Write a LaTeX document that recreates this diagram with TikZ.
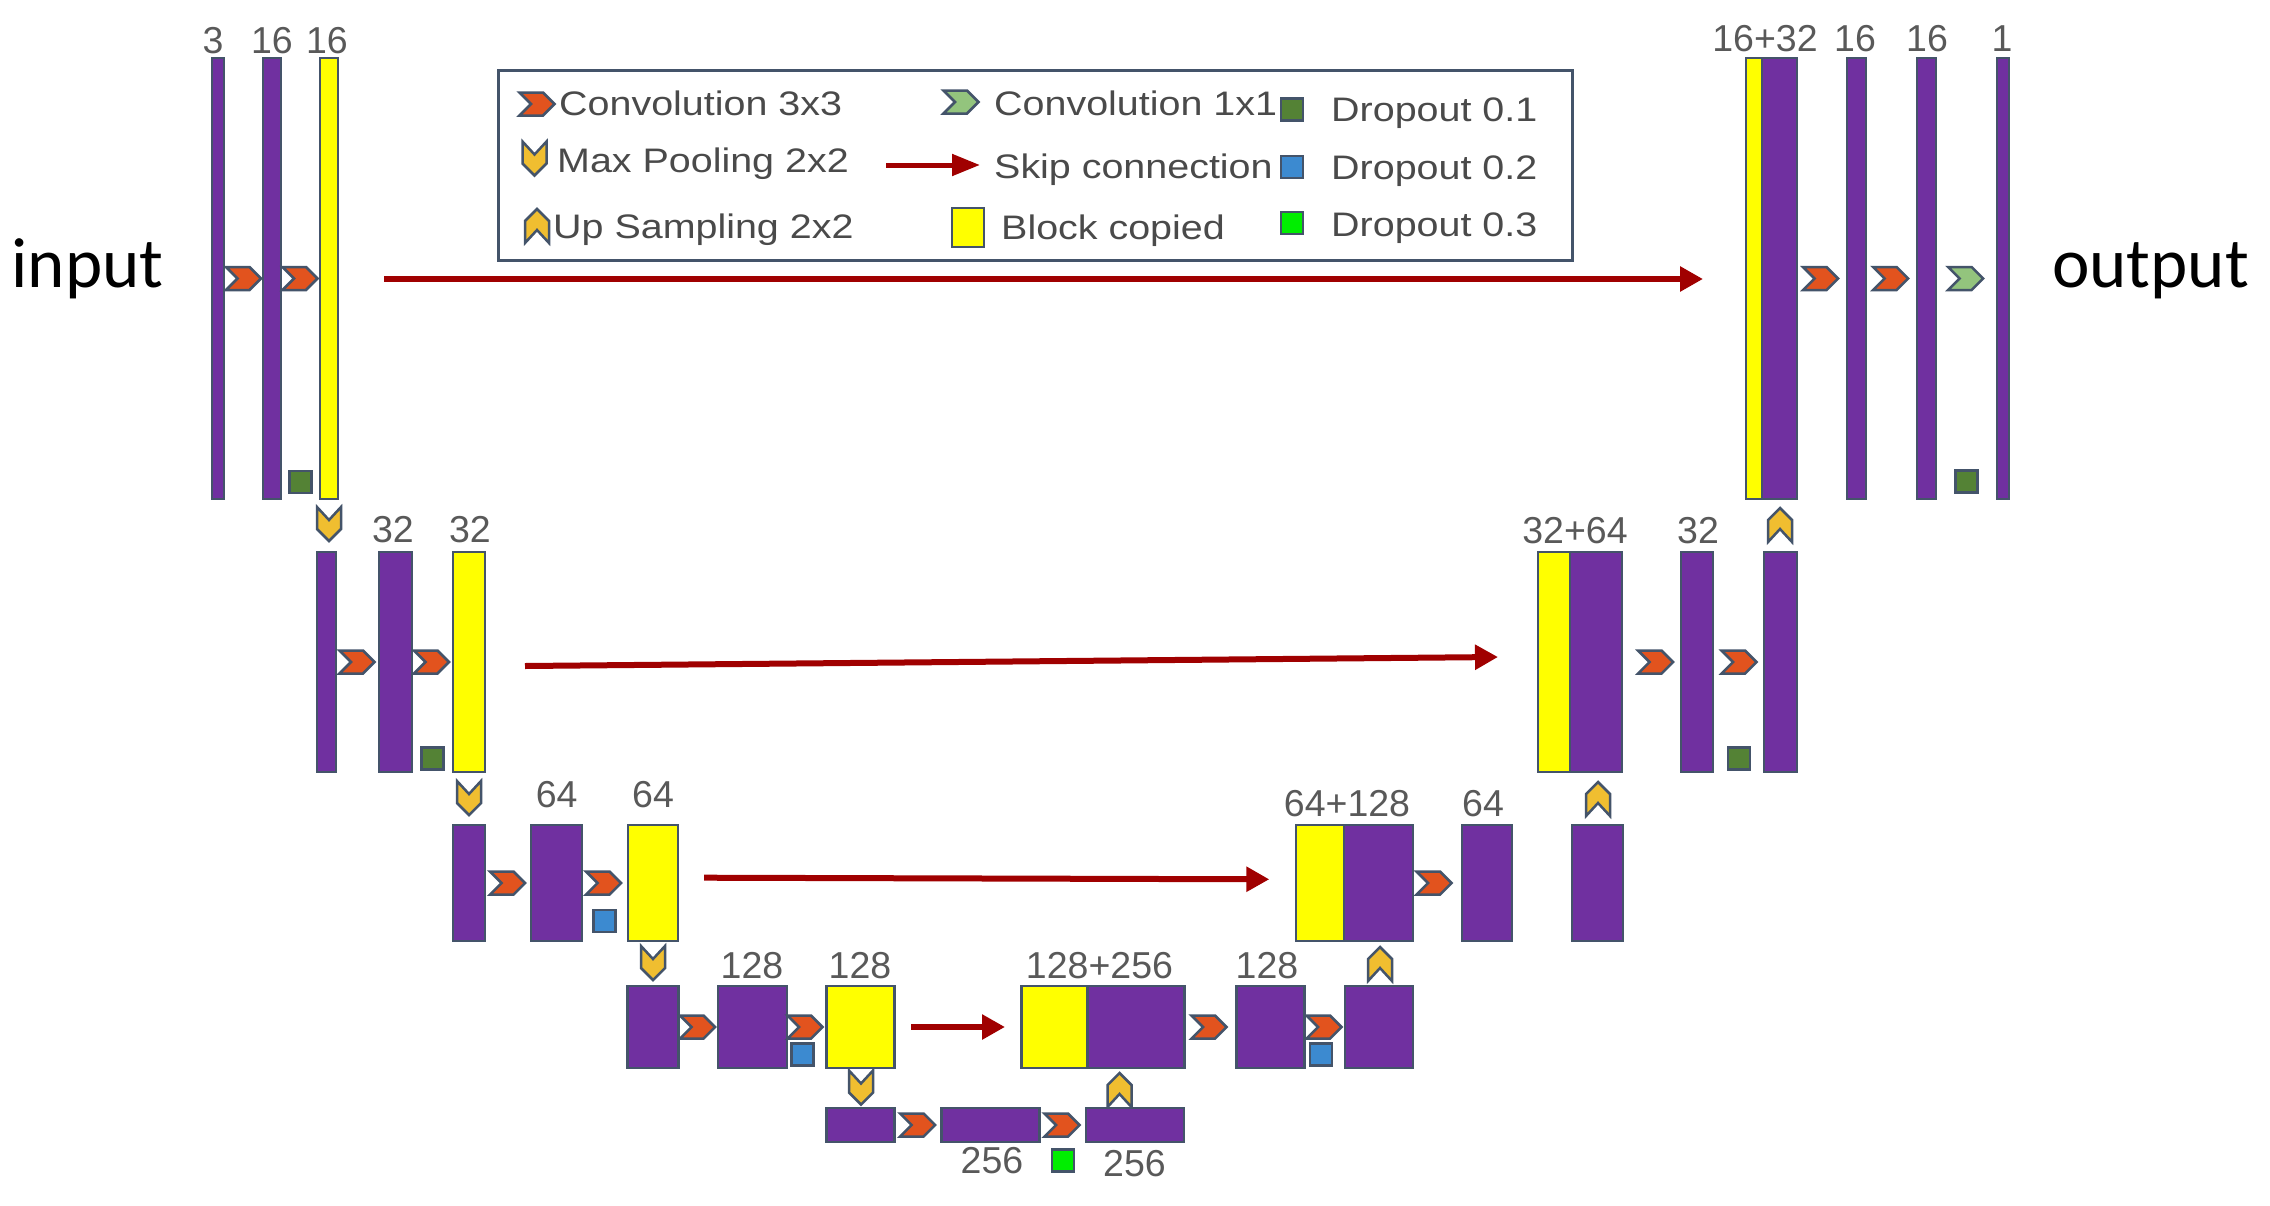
\documentclass[tikz,border=0pt]{standalone}
\usepackage{fontspec}
\setmainfont{Liberation Sans}
\newfontfamily\calib{Carlito}
\newfontfamily\legfont[FakeStretch=1.16]{Liberation Sans}
\usetikzlibrary{arrows.meta}
\definecolor{purp}{HTML}{7030A0}
\definecolor{edge}{HTML}{44546A}
\definecolor{yel}{HTML}{FFFF00}
\definecolor{convc}{HTML}{E2531E}
\definecolor{poolc}{HTML}{F0BE30}
\definecolor{onec}{HTML}{93C47D}
\definecolor{dgc}{HTML}{548235}
\definecolor{blc}{HTML}{3C8AD0}
\definecolor{bgc}{HTML}{00EE00}
\definecolor{skipc}{HTML}{A00000}
\definecolor{lblc}{HTML}{595959}
\definecolor{legc}{HTML}{4A4A4A}
\tikzset{
 blk/.style={draw=edge, line width=2.5pt, inner sep=0pt, outer sep=0pt},
 bar/.style={blk, fill=purp},
 cpy/.style={blk, fill=yel},
 drop/.style={blk, minimum width=22pt, minimum height=22pt},
 lbl/.style={text=lblc, font=\fontsize{37.5}{40}\selectfont, anchor=base, inner sep=0pt},
 leg/.style={text=legc, font=\legfont\fontsize{34}{36}\selectfont, anchor=base west, inner sep=0pt},
 io/.style={text=black, font=\calib\fontsize{71}{74}\selectfont, anchor=base, inner sep=0pt},
 skip/.style={draw=skipc, line width=6pt, -{Triangle[length=23pt,width=24pt]}},
 chev/.style={draw=edge, line width=2.5pt, line join=miter},
 convR/.pic={\path[chev, fill=convc] (-17.5,-11.5) -- (6,-11.5) -- (17.5,0) -- (6,11.5) -- (-17.5,11.5) -- (-6,0) -- cycle;},
 oneR/.pic={\path[chev, fill=onec] (-17.5,-11.5) -- (6,-11.5) -- (17.5,0) -- (6,11.5) -- (-17.5,11.5) -- (-6,0) -- cycle;},
 poolD/.pic={\path[chev, fill=poolc] (-12,-17) -- (0,-4) -- (12,-17) -- (12,5) -- (0,17) -- (-12,5) -- cycle;},
 upU/.pic={\path[chev, fill=poolc] (-12,17) -- (0,4) -- (12,17) -- (12,-5) -- (0,-17) -- (-12,-5) -- cycle;},
}
\begin{document}
\begin{tikzpicture}[x=1pt,y=-1pt]
\fill[white] (0,0) rectangle (2270,1205);
\useasboundingbox (0,0) rectangle (2270,1205);

% input / output
\node[io] (inp) at (87.5,287) {input};
\node[io] (out) at (2150.5,287) {output};

% ---------- legend ----------
\node[draw=edge, line width=3pt, fill=white, minimum width=1074pt, minimum height=190pt, inner sep=0pt] (legend) at (1035,165) {};
\pic at (537,104) {convR};
\pic at (534.5,158.5) {poolD};
\pic at (537,226) {upU};
\pic at (961,102) {oneR};
\coordinate (lska) at (886,165);
\coordinate (lskb) at (980,165);
\draw[draw=skipc, line width=5pt, -{Triangle[length=28pt,width=21pt]}] (lska) -- (lskb);
\node[cpy, minimum width=32pt, minimum height=39pt] (lcp) at (968,227.5) {};
\node[drop, fill=dgc] (ld1) at (1292,109.5) {};
\node[drop, fill=blc] (ld2) at (1292,167) {};
\node[drop, fill=bgc] (ld3) at (1292,223) {};
\node[leg] (t1) at (559,115) {Convolution 3x3};
\node[leg] (t2) at (557,172) {Max Pooling 2x2};
\node[leg] (t3) at (553,238) {Up Sampling 2x2};
\node[leg] (t4) at (994,115) {Convolution 1x1};
\node[leg] (t5) at (994,178) {Skip connection};
\node[leg] (t6) at (1001,239) {Block copied};
\node[leg] (t7) at (1331,121.5) {Dropout 0.1};
\node[leg] (t8) at (1331,179) {Dropout 0.2};
\node[leg] (t9) at (1331,236) {Dropout 0.3};

% ---------- row 1 ----------
\node[bar, minimum width=12pt, minimum height=441pt] (b1a) at (218,278.5) {};
\node[bar, minimum width=18pt, minimum height=441pt] (b1b) at (272,278.5) {};
\node[cpy, minimum width=18pt, minimum height=441pt] (b1c) at (329,278.5) {};
\pic at (243.5,278.5) {convR};
\pic at (300,278.5) {convR};
\node[drop, fill=dgc] (d1a) at (300.5,482) {};
\pic at (329,524) {poolD};
\node[cpy, minimum width=16pt, minimum height=441pt] (c1y) at (1754,278.5) {};
\node[bar, minimum width=35pt, minimum height=441pt] (c1p) at (1779.5,278.5) {};
\node[bar, minimum width=19pt, minimum height=441pt] (r1a) at (1856.5,278.5) {};
\node[bar, minimum width=19pt, minimum height=441pt] (r1b) at (1926.5,278.5) {};
\node[bar, minimum width=12pt, minimum height=441pt] (r1c) at (2003,278.5) {};
\pic at (1820.5,278.5) {convR};
\pic at (1890.5,278.5) {convR};
\pic at (1965.5,278.5) {oneR};
\node[drop, fill=dgc] (d1b) at (1966.5,481.5) {};
\pic at (1780,525) {upU};
\node[lbl] at (213,53) {3};
\node[lbl] at (272,53) {16};
\node[lbl] at (327,53) {16};
\node[lbl] at (1765,51) {16+32};
\node[lbl] at (1855,51) {16};
\node[lbl] at (1927,51) {16};
\node[lbl] at (2002,51) {1};
\coordinate (s1) at (384,279);
\coordinate (e1) at (1703,279);
\draw[skip] (s1) -- (e1);

% ---------- row 2 ----------
\node[bar, minimum width=19pt, minimum height=220pt] (b2a) at (326.5,662) {};
\node[bar, minimum width=33pt, minimum height=220pt] (b2b) at (395.5,662) {};
\node[cpy, minimum width=32pt, minimum height=220pt] (b2c) at (469,662) {};
\pic at (357,662) {convR};
\pic at (431.5,662) {convR};
\node[drop, fill=dgc] (d2a) at (432.5,758.5) {};
\pic at (469,798) {poolD};
\node[cpy, minimum width=32pt, minimum height=220pt] (c2y) at (1554,662) {};
\node[bar, minimum width=52pt, minimum height=220pt] (c2p) at (1596,662) {};
\pic at (1655.5,662) {convR};
\node[bar, minimum width=32pt, minimum height=220pt] (r2a) at (1697,662) {};
\pic at (1739,662) {convR};
\node[drop, fill=dgc] (d2b) at (1739,758.5) {};
\node[bar, minimum width=33pt, minimum height=220pt] (r2b) at (1780.5,662) {};
\pic at (1598,799) {upU};
\node[lbl] at (393,542) {32};
\node[lbl] at (470,542) {32};
\node[lbl] at (1575,543) {32+64};
\node[lbl] at (1698,543) {32};
\coordinate (s2) at (525,666);
\coordinate (e2) at (1498,657);
\draw[skip] (s2) -- (e2);

% ---------- row 3 ----------
\node[bar, minimum width=32pt, minimum height=116pt] (b3a) at (469,883) {};
\node[bar, minimum width=51pt, minimum height=116pt] (b3b) at (556.5,883) {};
\node[cpy, minimum width=50pt, minimum height=116pt] (b3c) at (653,883) {};
\pic at (507.5,883) {convR};
\pic at (603.5,883) {convR};
\node[drop, fill=blc] (d3a) at (604.5,921) {};
\pic at (653,963) {poolD};
\node[cpy, minimum width=48pt, minimum height=116pt] (c3y) at (1320,883) {};
\node[bar, minimum width=69pt, minimum height=116pt] (c3p) at (1378.5,883) {};
\pic at (1434,883) {convR};
\node[bar, minimum width=50pt, minimum height=116pt] (r3a) at (1487,883) {};
\node[bar, minimum width=51pt, minimum height=116pt] (r3b) at (1597.5,883) {};
\pic at (1380,964) {upU};
\node[lbl] at (556.7,807) {64};
\node[lbl] at (653,807) {64};
\node[lbl] at (1347,816) {64+128};
\node[lbl] at (1483,816) {64};
\coordinate (s3) at (704,877.7);
\coordinate (e3) at (1269.3,879.3);
\draw[skip] (s3) -- (e3);

% ---------- row 4 ----------
\node[bar, minimum width=51pt, minimum height=82pt] (b4a) at (653,1027) {};
\node[bar, minimum width=69pt, minimum height=82pt] (b4b) at (752.5,1027) {};
\node[cpy, minimum width=68pt, minimum height=82pt] (b4c) at (860.5,1027) {};
\pic at (697.5,1027) {convR};
\pic at (805,1027) {convR};
\node[drop, fill=blc] (d4a) at (802.5,1054.5) {};
\pic at (861,1087.5) {poolD};
\node[cpy, minimum width=66pt, minimum height=82pt] (c4y) at (1054.5,1027) {};
\node[bar, minimum width=97pt, minimum height=82pt] (c4p) at (1136,1027) {};
\pic at (1209,1027) {convR};
\node[bar, minimum width=68pt, minimum height=82pt] (r4a) at (1270.5,1027) {};
\pic at (1324,1027) {convR};
\node[drop, fill=blc] (d4b) at (1321,1054.5) {};
\node[bar, minimum width=68pt, minimum height=82pt] (r4b) at (1379,1027) {};
\pic at (1119.5,1090) {upU};
\node[lbl] at (752,978) {128};
\node[lbl] at (860,978) {128};
\node[lbl] at (1099.5,978) {128+256};
\node[lbl] at (1267,978) {128};
\coordinate (s4) at (911,1027);
\coordinate (e4) at (1005,1027);
\draw[skip] (s4) -- (e4);

% ---------- row 5 ----------
\node[bar, minimum width=68pt, minimum height=34pt] (b5a) at (860.5,1125) {};
\node[bar, minimum width=98pt, minimum height=34pt] (b5b) at (990.4,1125) {};
\node[bar, minimum width=98pt, minimum height=34pt] (b5c) at (1135.2,1125) {};
\pic at (917.7,1125) {convR};
\pic at (1062,1125) {convR};
\node[drop, fill=bgc] (d5) at (1063,1160.5) {};
\node[lbl] at (992,1173) {256};
\node[lbl] at (1134.5,1176) {256};
\end{tikzpicture}
\end{document}
